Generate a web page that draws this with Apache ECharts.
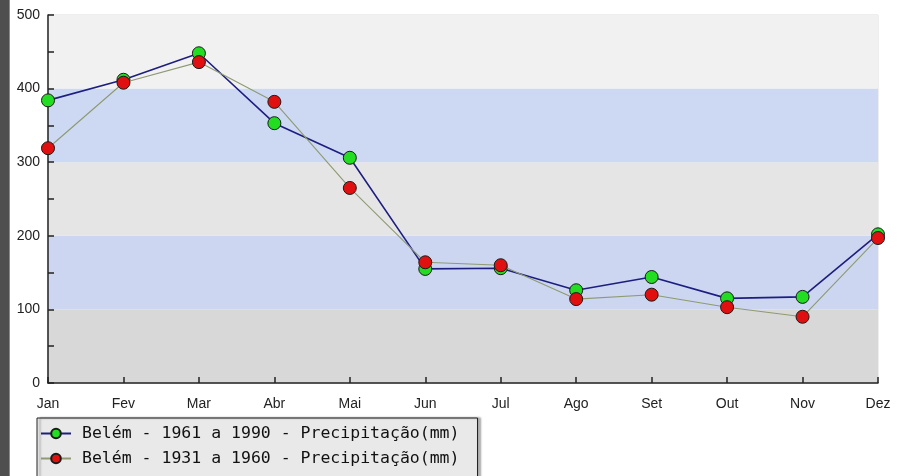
<!DOCTYPE html>
<html>
<head>
<meta charset="utf-8">
<script src="https://cdn.jsdelivr.net/npm/echarts@6/dist/echarts.min.js"></script>
<style>
html,body{margin:0;padding:0;background:#fff;}
#c{width:897px;height:476px;}
</style>
</head>
<body>
<div id="c"></div>
<script>
var months = ['Jan','Fev','Mar','Abr','Mai','Jun','Jul','Ago','Set','Out','Nov','Dez'];
var belem6190 = [384, 412, 448, 353, 306, 155, 156, 126, 144, 115, 117, 202];
var belem3160 = [319, 408, 436, 382, 265, 164, 160, 114, 120, 103, 90, 197];
var seriesNames = ['Belém - 1961 a 1990 - Precipitação(mm)', 'Belém - 1931 a 1960 - Precipitação(mm)'];
var yTicks = {min: 0, max: 500, interval: 100};

var chart = echarts.init(document.getElementById('c'));
chart.setOption({
  animation: false,
  backgroundColor: '#ffffff',
  graphic: [
    {type: 'rect', left: 0, top: 0, shape: {width: 10, height: 476}, style: {fill: '#4f4f4f'}, z: 100},
    {type: 'rect', left: 9, top: 0, shape: {width: 1, height: 476}, style: {fill: '#8a8a8a'}, z: 100}
  ],
  grid: {left: 48, right: 19, top: 15, bottom: 93, show: true, borderColor: '#dddddd', borderWidth: 1, backgroundColor: 'transparent'},
  legend: {
    orient: 'vertical',
    left: 37,
    top: 418,
    height: 120,
    padding: [7, 18, 30, 3],
    itemGap: 8,
    itemWidth: 30,
    itemHeight: 12,
    backgroundColor: '#e9e9e9',
    borderColor: '#222',
    borderWidth: 1,
    shadowColor: 'rgba(0,0,0,0.35)',
    shadowOffsetX: 3,
    shadowOffsetY: 0,
    shadowBlur: 2,
    textStyle: {fontFamily: 'DejaVu Sans Mono', fontSize: 16.5, color: '#111', padding: [0, 0, 0, 6]},
    data: seriesNames
  },
  xAxis: {
    type: 'category',
    data: months,
    boundaryGap: false,
    axisLine: {lineStyle: {color: '#222', width: 1.5}},
    axisTick: {show: true, inside: true, length: 6, alignWithLabel: true, lineStyle: {color: '#222', width: 1.5}},
    axisLabel: {color: '#222', fontFamily: 'Liberation Sans', fontSize: 14, margin: 14},
    splitLine: {show: false}
  },
  yAxis: {
    type: 'value',
    min: yTicks.min,
    max: yTicks.max,
    interval: yTicks.interval,
    axisLine: {show: true, lineStyle: {color: '#222', width: 1.5}},
    axisTick: {show: true, inside: true, length: 6, lineStyle: {color: '#222', width: 1.5}},
    minorTick: {show: true, splitNumber: 2, length: 6, lineStyle: {color: '#222', width: 1.5}},
    axisLabel: {color: '#222', fontFamily: 'Liberation Sans', fontSize: 14, margin: 8},
    splitLine: {show: false},
    splitArea: {show: true, areaStyle: {color: ['#d8d8d8', '#ccd6f0', '#e5e5e5', '#cdd8f2', '#f1f1f1']}}
  },
  series: [
    {
      name: seriesNames[0],
      type: 'line',
      data: belem6190,
      symbol: 'circle',
      symbolSize: 13,
      z: 3,
      lineStyle: {color: '#1e1e80', width: 1.6},
      itemStyle: {color: '#22dd22', borderColor: '#1a1a1a', borderWidth: 1}
    },
    {
      name: seriesNames[1],
      type: 'line',
      data: belem3160,
      symbol: 'circle',
      symbolSize: 13,
      z: 4,
      lineStyle: {color: '#8e9a72', width: 1.1},
      itemStyle: {color: '#e01010', borderColor: '#1a1a1a', borderWidth: 1}
    }
  ]
});
</script>
</body>
</html>
